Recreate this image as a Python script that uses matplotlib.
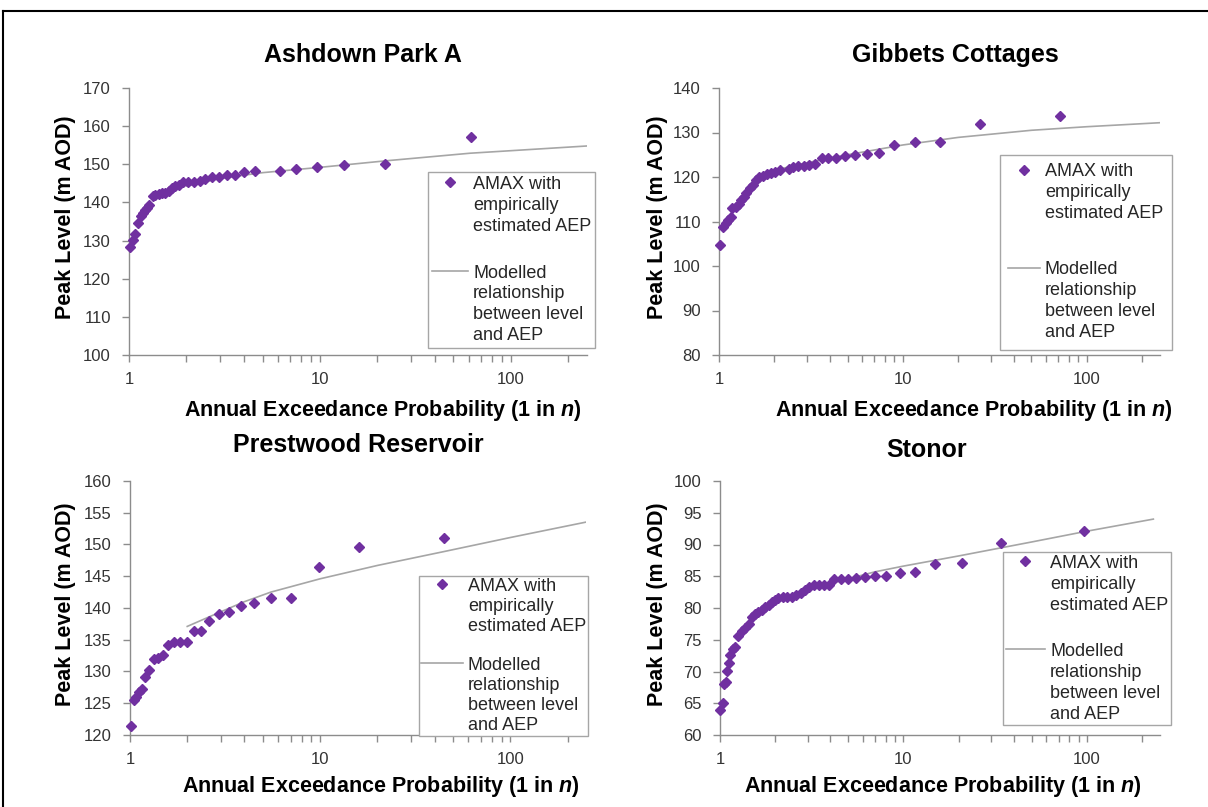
import numpy as np
import matplotlib
matplotlib.use('Agg')
import matplotlib.pyplot as plt
from matplotlib.lines import Line2D

plt.rcParams['font.family'] = 'Liberation Sans'
plt.rcParams['mathtext.fontset'] = 'custom'
plt.rcParams['mathtext.it'] = 'Liberation Sans:italic:bold'

W, H = 1208, 807

# Ashdown Park A
ash_aep = [1.01, 1.05, 1.08, 1.12, 1.15, 1.18, 1.21, 1.24, 1.28, 1.33,
           1.37, 1.43, 1.49, 1.55, 1.61, 1.68, 1.75, 1.82, 1.92, 2.03,
           2.18, 2.34, 2.51, 2.72, 2.95, 3.24, 3.57, 4.0, 4.55, 6.17,
           7.52, 9.63, 13.4, 22.0, 61.4]
ash_level = [128.4, 130.1, 131.7, 134.5, 136.4, 137.1, 138.0, 138.6, 139.3, 141.7,
             141.9, 142.2, 142.4, 142.6, 143.0, 143.7, 144.3, 144.7, 145.3, 145.4,
             145.4, 145.6, 146.1, 146.7, 146.7, 147.2, 147.2, 147.9, 148.2, 148.3,
             148.7, 149.2, 149.9, 150.0, 157.1]
ash_model_aep = [2, 3, 5, 10, 22, 61, 250]
ash_model_level = [144.3, 146.3, 147.8, 149.2, 150.9, 152.9, 154.8]

# Gibbets Cottages
gib_aep = [1.01, 1.05, 1.09, 1.12, 1.155, 1.18, 1.23, 1.29, 1.32,
           1.36, 1.41, 1.47, 1.53, 1.59, 1.66, 1.73, 1.82, 1.92, 2.02,
           2.14, 2.39, 2.53, 2.68, 2.90, 3.09, 3.32, 3.61, 3.92, 4.32,
           4.86, 5.49, 6.34, 7.43, 9.0, 11.6, 15.9, 26.1, 71.3]
gib_level = [104.7, 108.8, 109.6, 110.3, 110.9, 113.0, 113.3, 113.9, 114.8,
             115.6, 116.5, 117.5, 118.2, 119.3, 119.9, 120.2, 120.6, 120.8, 121.2,
             121.6, 121.9, 122.2, 122.5, 122.5, 122.7, 122.9, 124.2, 124.2, 124.3,
             124.7, 124.9, 125.2, 125.3, 127.2, 127.9, 127.9, 132.0, 133.6]
gib_model_aep = [2, 3, 5, 10, 20, 50, 100, 250]
gib_model_level = [121.5, 123.2, 125.0, 127.2, 128.9, 130.5, 131.3, 132.2]

# Prestwood Reservoir
pre_aep = [1.01, 1.05, 1.08, 1.12, 1.15, 1.20, 1.26, 1.33, 1.41, 1.50,
           1.59, 1.71, 1.84, 1.99, 2.16, 2.36, 2.61, 2.93, 3.30, 3.84,
           4.51, 5.53, 7.05, 9.9, 16.0, 44.8]
pre_level = [121.4, 125.5, 126.0, 126.7, 127.2, 129.2, 130.2, 132.0, 132.2, 132.6,
             134.2, 134.7, 134.7, 134.7, 136.3, 136.4, 138.0, 139.0, 139.4, 140.3,
             140.8, 141.6, 141.6, 146.5, 149.6, 151.1]
pre_model_aep = [2, 3, 4, 5.5, 10, 20, 45, 100, 257]
pre_model_level = [137.1, 139.4, 141.0, 142.5, 144.6, 146.7, 148.9, 151.1, 153.6]

# Stonor
sto_aep = [1.005, 1.034, 1.05, 1.074, 1.087, 1.12, 1.14, 1.17, 1.21, 1.26,
           1.31, 1.37, 1.43, 1.49, 1.55, 1.62, 1.69, 1.76, 1.84, 1.92,
           2.0, 2.08, 2.20, 2.33, 2.46, 2.60, 2.76, 2.91, 3.07, 3.26,
           3.45, 3.67, 3.91, 4.20, 4.56, 4.96, 5.53, 6.19, 7.03, 8.07,
           9.55, 11.6, 14.9, 20.9, 34.2, 95.9]
sto_level = [63.9, 65.1, 68.0, 68.3, 70.1, 71.4, 72.6, 73.5, 73.9, 75.6,
             76.3, 76.8, 77.5, 78.6, 79.0, 79.4, 79.7, 80.1, 80.5, 81.0,
             81.3, 81.5, 81.7, 81.8, 81.8, 82.1, 82.4, 82.8, 83.3, 83.6,
             83.7, 83.7, 83.6, 84.5, 84.6, 84.6, 84.7, 84.9, 85.1, 85.1,
             85.5, 85.7, 86.9, 87.1, 90.3, 92.1]
sto_model_aep = [2, 3, 5, 7, 10, 20, 50, 100, 230]
sto_model_level = [80.8, 82.9, 84.6, 85.7, 86.6, 88.2, 90.4, 92.1, 94.0]

titles = ['Ashdown Park A', 'Gibbets Cottages', 'Prestwood Reservoir', 'Stonor']
ylims = [(100, 170), (80, 140), (120, 160), (60, 100)]
ysteps = [10, 10, 5, 5]
x_major = [1, 10, 100]
x_minor = [2, 3, 4, 5, 6, 7, 8, 9, 20, 30, 40, 50, 60, 70, 80, 90, 200]
leg_labels = ['AMAX with', 'empirically', 'estimated AEP', '',
              'Modelled', 'relationship', 'between level', 'and AEP']

purple = '#7030A0'
grey_line = '#A6A6A6'
spine_c = '#8C8C8C'

# panel layout in pixels: left, right, top, bottom
boxes = [(129, 587, 88, 355), (719, 1160, 88, 355),
         (130, 586, 481, 735), (720, 1160, 481, 735)]
title_pos = [(363, 62), (955, 62), (358, 452), (927, 457)]
xlab_pos = [(383, 416), (974, 416), (381, 792), (943, 792)]
ylab_pos = [(66, 217), (657, 217), (66, 604), (657, 604)]
# legend: anchor (px), borderpad, handlelength, labelspacing, spacer size
leg_pos = [(428, 172), (1000, 155), (419, 576), (1003, 552)]
leg_pad = [0.2, 0.47, 0.1, 0.155]
leg_hlen = [2.0, 1.72, 2.31, 2.15]
leg_lspace = [0.22, 0.22, 0.17, 0.22]
leg_spacer = [17.6, 23.7, 9.2, 15.8]

data = [(ash_aep, ash_level, ash_model_aep, ash_model_level),
        (gib_aep, gib_level, gib_model_aep, gib_model_level),
        (pre_aep, pre_level, pre_model_aep, pre_model_level),
        (sto_aep, sto_level, sto_model_aep, sto_model_level)]

fig = plt.figure(figsize=(W / 100, H / 100), dpi=100)

for i in range(4):
    l, r, t, b = boxes[i]
    ax = fig.add_axes([l / W, 1 - b / H, (r - l) / W, (b - t) / H])
    aep, level, maep, mlevel = data[i]
    ax.plot(maep, mlevel, color=grey_line, lw=1.2)
    ax.plot(aep, level, ls='none', marker='D', ms=5.2, color=purple,
            clip_on=False, zorder=3)
    ax.set_xscale('log')
    ax.set_xlim(1, 250)
    ax.set_ylim(*ylims[i])
    ax.set_yticks(np.arange(ylims[i][0], ylims[i][1] + 0.1, ysteps[i]))
    ax.set_xticks(x_major)
    ax.set_xticklabels([str(v) for v in x_major])
    ax.set_xticks(x_minor, minor=True)
    ax.set_xticklabels([], minor=True)
    for s in ['top', 'right']:
        ax.spines[s].set_visible(False)
    for s in ['left', 'bottom']:
        ax.spines[s].set_color(spine_c)
        ax.spines[s].set_linewidth(1.0)
    ax.tick_params(axis='both', which='both', direction='out', length=5,
                   width=1.0, color=spine_c, labelsize=12, labelcolor='#333333')
    ax.tick_params(axis='y', pad=8)
    ax.tick_params(axis='x', which='both', pad=7)

    fig.text(title_pos[i][0] / W, 1 - title_pos[i][1] / H, titles[i],
             ha='center', va='baseline', fontsize=18, fontweight='bold')
    fig.text(xlab_pos[i][0] / W, 1 - xlab_pos[i][1] / H,
             r'Annual Exceedance Probability (1 in $n$)',
             ha='center', va='baseline', fontsize=15.5, fontweight='bold')
    fig.text(ylab_pos[i][0] / W, 1 - ylab_pos[i][1] / H, 'Peak Level (m AOD)',
             ha='center', va='center', rotation=90, fontsize=15.5,
             fontweight='bold')

    # legend built row by row so each symbol sits on the first line of its text
    h_pt = Line2D([], [], ls='none', marker='D', ms=5.2, color=purple)
    h_ln = Line2D([], [], color=grey_line, lw=1.2)
    h_no = Line2D([], [], ls='none')
    handles = [h_pt, h_no, h_no, h_no, h_ln, h_no, h_no, h_no]
    leg = ax.legend(handles, leg_labels, loc='upper left',
                    bbox_to_anchor=(leg_pos[i][0] / W, 1 - leg_pos[i][1] / H),
                    bbox_transform=fig.transFigure, borderaxespad=0,
                    fancybox=False, edgecolor='#A6A6A6', framealpha=1,
                    fontsize=13, handlelength=leg_hlen[i], handletextpad=0.3,
                    labelspacing=leg_lspace[i], borderpad=leg_pad[i])
    leg.get_frame().set_linewidth(1.0)
    for txt in leg.get_texts():
        txt.set_color('#262626')
    leg.get_texts()[3].set_fontsize(leg_spacer[i])

# outer frame lines (top and left)
fig.add_artist(Line2D([3 / W, 1], [1 - 11 / H, 1 - 11 / H],
                      transform=fig.transFigure, color='black', lw=1.5))
fig.add_artist(Line2D([3 / W, 3 / W], [0, 1 - 11 / H],
                      transform=fig.transFigure, color='black', lw=1.5))

plt.savefig('out.png', dpi=100)
